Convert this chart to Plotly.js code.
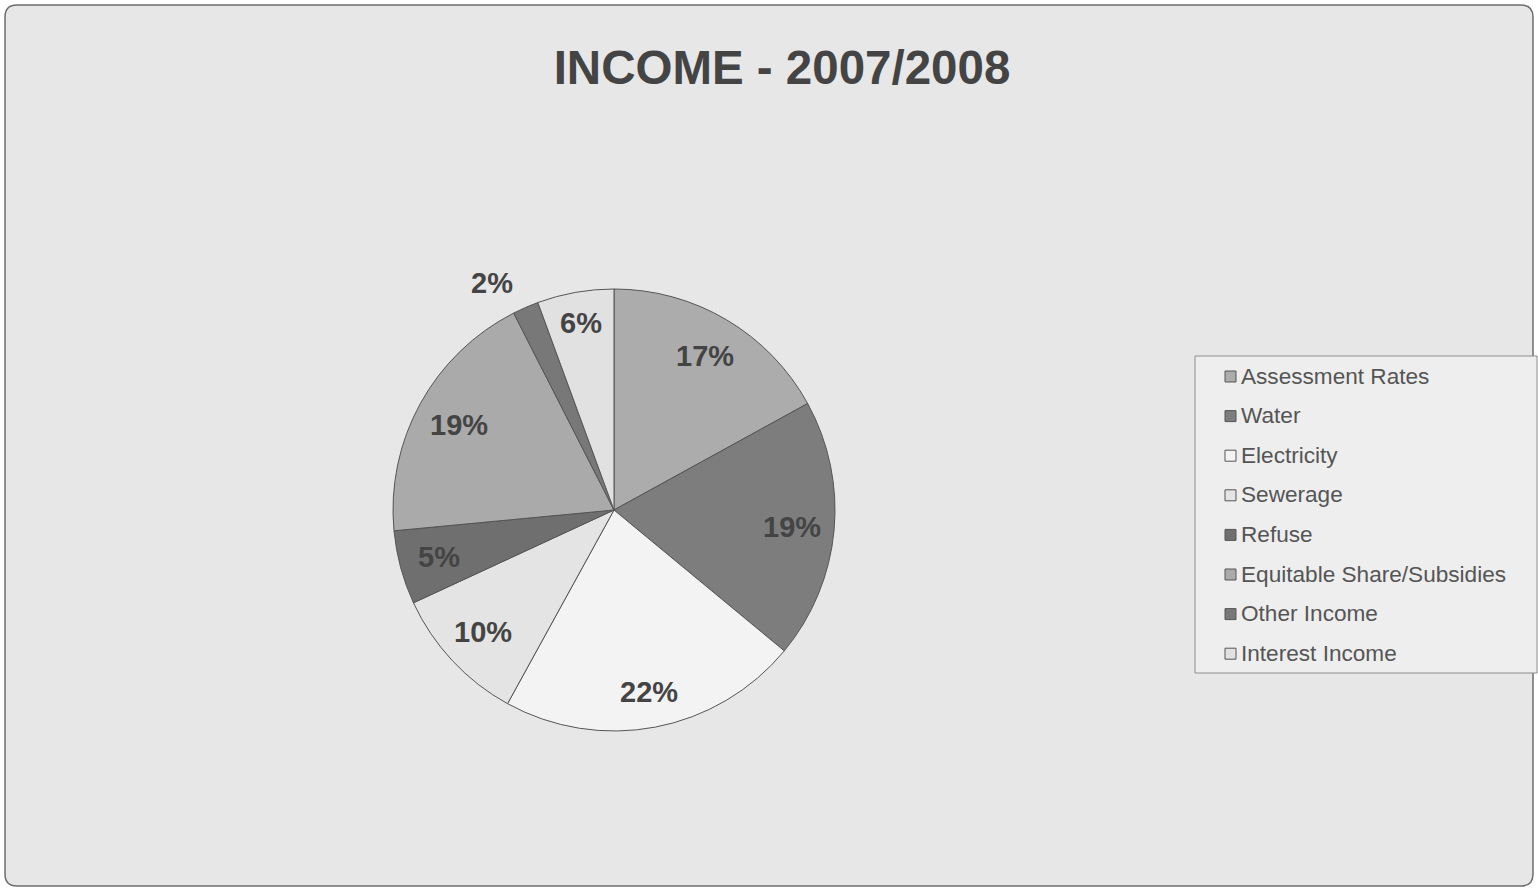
<!DOCTYPE html>
<html><head><meta charset="utf-8">
<script src="https://cdn.plot.ly/plotly-3.0.1.min.js"></script>
<style>html,body{margin:0;padding:0;background:#fff}#chart{width:1538px;height:891px}</style>
</head><body><div id="chart"></div>
<script>
// ---- data ----
const categories = ["Assessment Rates", "Water", "Electricity", "Sewerage", "Refuse", "Equitable Share/Subsidies", "Other Income", "Interest Income"];
const shares = [17, 19, 22, 10.1, 5.4, 19, 1.9, 5.6];
const chartTitle = "INCOME - 2007/2008";

// ---- styles ----
const sliceColors = ["#acacac", "#7d7d7d", "#f3f3f3", "#e4e4e4", "#6f6f6f", "#aaaaaa", "#787878", "#e1e1e1"];
const labelOutside = [false, false, false, false, false, false, true, false];
const labelRadius = [0.81, 0.81, 0.84, 0.81, 0.82, 0.80, 1.12, 0.86];
const FONT = "Liberation Sans, Arial, sans-serif";
const W = 1538, H = 891;
const px = x => x / W, py = y => 1 - y / H;

// pie geometry (pixels)
const cx = 614, cy = 510, R = 221;

const trace = {
  type: "pie",
  labels: categories,
  values: shares,
  sort: false,
  direction: "clockwise",
  rotation: 0,
  marker: { colors: sliceColors, line: { color: "#555555", width: 1 } },
  textinfo: "none",
  domain: { x: [px(cx - R), px(cx + R)], y: [py(cy + R), py(cy - R)] },
  showlegend: false,
  hoverinfo: "label+percent"
};

// outer rounded frame
function roundRect(x0, y0, x1, y1, r) {
  const X = px, Y = py;
  return `M${X(x0 + r)},${Y(y0)} L${X(x1 - r)},${Y(y0)} Q${X(x1)},${Y(y0)} ${X(x1)},${Y(y0 + r)} ` +
    `L${X(x1)},${Y(y1 - r)} Q${X(x1)},${Y(y1)} ${X(x1 - r)},${Y(y1)} ` +
    `L${X(x0 + r)},${Y(y1)} Q${X(x0)},${Y(y1)} ${X(x0)},${Y(y1 - r)} ` +
    `L${X(x0)},${Y(y0 + r)} Q${X(x0)},${Y(y0)} ${X(x0 + r)},${Y(y0)} Z`;
}

const shapes = [{
  type: "path", xref: "paper", yref: "paper", layer: "below",
  path: roundRect(5, 5, 1533, 886, 12),
  fillcolor: "#e7e7e7", line: { color: "#6e6e6e", width: 1.5 }
}, {
  type: "rect", xref: "paper", yref: "paper", layer: "below",
  x0: px(1195), x1: px(1537), y0: py(673), y1: py(356),
  fillcolor: "#eeeeee", line: { color: "#8c8c8c", width: 1 }
}];

const annotations = [];

// percentage labels placed along each slice's mid-angle (computed from the data)
const total = shares.reduce((a, b) => a + b, 0);
let cum = 0;
shares.forEach((v, i) => {
  const mid = (cum + v / 2) / total * 2 * Math.PI;
  cum += v;
  const pct = Math.round(v / total * 100) + "%";
  const out = labelOutside[i];
  const rr = labelRadius[i] * R;
  const x = cx + rr * Math.sin(mid), y = cy - rr * Math.cos(mid);
  annotations.push({
    xref: "paper", yref: "paper", x: px(x), y: py(y),
    xanchor: out ? (Math.sin(mid) < 0 ? "right" : "left") : "center", yanchor: "middle",
    showarrow: false, text: "<b>" + pct + "</b>",
    font: { family: FONT, size: 29, color: "#444444" }
  });
});

// legend
const legTop = 376, legStep = 39.6;
categories.forEach((c, i) => {
  const yc = legTop + i * legStep;
  shapes.push({
    type: "rect", xref: "paper", yref: "paper",
    x0: px(1225), x1: px(1236), y0: py(yc + 6), y1: py(yc - 5),
    fillcolor: sliceColors[i], line: { color: "#555555", width: 1 }
  });
  annotations.push({
    xref: "paper", yref: "paper", x: px(1239), y: py(yc),
    xanchor: "left", yanchor: "middle", showarrow: false,
    text: c, font: { family: FONT, size: 22.6, color: "#555555" }
  });
});

const layout = {
  width: W, height: H,
  margin: { l: 0, r: 0, t: 0, b: 0 },
  paper_bgcolor: "#ffffff",
  title: {
    text: chartTitle, x: px(782), y: py(67), xanchor: "center", yanchor: "middle",
    xref: "paper", yref: "paper",
    font: { family: FONT, size: 47.5, color: "#444444", weight: "bold" }
  },
  shapes: shapes,
  annotations: annotations,
  showlegend: false
};

Plotly.newPlot("chart", [trace], layout, { displayModeBar: false, staticPlot: true });
</script>
</body></html>
